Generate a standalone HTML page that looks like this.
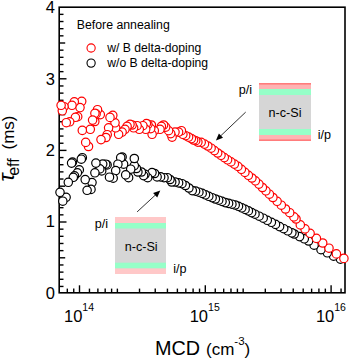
<!DOCTYPE html><html><head><meta charset="utf-8"><style>html,body{margin:0;padding:0;background:#fff;}svg{display:block;}text{font-family:"Liberation Sans",sans-serif;}</style></head><body>
<svg width="350" height="360" viewBox="0 0 350 360">
<rect width="350" height="360" fill="#fff"/>
<rect x="259" y="83" width="52" height="58" fill="#d6d6d6"/><rect x="259" y="83" width="52" height="6" fill="#ffb3b3"/><rect x="259" y="83" width="52" height="1.6" fill="#ff7c7c"/><rect x="259" y="89" width="52" height="6" fill="#96ffc8"/><rect x="259" y="129" width="52" height="6" fill="#96ffc8"/><rect x="259" y="135" width="52" height="6" fill="#ffb3b3"/><rect x="259" y="139.4" width="52" height="1.6" fill="#ff7c7c"/>
<rect x="115" y="217" width="51" height="57" fill="#d6d6d6"/><rect x="115" y="217" width="51" height="6" fill="#ffc8c8"/><rect x="115" y="223" width="51" height="5.5" fill="#96ffc8"/><rect x="115" y="262.7" width="51" height="5.8" fill="#96ffc8"/><rect x="115" y="268.5" width="51" height="5.5" fill="#ffc8c8"/>
<text x="285" y="116.8" font-size="12.6" text-anchor="middle" fill="#000">n-c-Si</text>
<text x="238.8" y="93.6" font-size="12.6" fill="#000">p/i</text>
<text x="317.8" y="139.2" font-size="12.6" fill="#000">i/p</text>
<text x="141.2" y="250.6" font-size="12.6" text-anchor="middle" fill="#000">n-c-Si</text>
<text x="94.8" y="227.8" font-size="12.6" fill="#000">p/i</text>
<text x="173.3" y="272.9" font-size="12.6" fill="#000">i/p</text>
<line x1="245.7" y1="112.1" x2="220.25072556213948" y2="136.26827069098834" stroke="#1a1a1a" stroke-width="0.9"/><polygon points="215.9,140.4 218.9099818346569,133.40428635841667 223.04171114366858,137.75501192055614" fill="#000"/>
<line x1="137.1" y1="211.9" x2="155.88972199311968" y2="194.5681012649672" stroke="#1a1a1a" stroke-width="0.9"/><polygon points="160.3,190.5 157.18872629112323,197.4512571459019 153.12062502615603,193.04097913902157" fill="#000"/>
<rect x="59.2" y="7.2" width="285.8" height="285.6" fill="none" stroke="#000" stroke-width="1.6"/><line x1="59.2" y1="286.44" x2="63.5" y2="286.44" stroke="#000" stroke-width="1.4"/><line x1="59.2" y1="279.28" x2="63.5" y2="279.28" stroke="#000" stroke-width="1.4"/><line x1="59.2" y1="272.12" x2="63.5" y2="272.12" stroke="#000" stroke-width="1.4"/><line x1="59.2" y1="264.96" x2="63.5" y2="264.96" stroke="#000" stroke-width="1.4"/><line x1="59.2" y1="257.80" x2="65.2" y2="257.80" stroke="#000" stroke-width="1.4"/><line x1="59.2" y1="250.64" x2="63.5" y2="250.64" stroke="#000" stroke-width="1.4"/><line x1="59.2" y1="243.48" x2="63.5" y2="243.48" stroke="#000" stroke-width="1.4"/><line x1="59.2" y1="236.32" x2="63.5" y2="236.32" stroke="#000" stroke-width="1.4"/><line x1="59.2" y1="229.16" x2="63.5" y2="229.16" stroke="#000" stroke-width="1.4"/><line x1="59.2" y1="222.00" x2="66.5" y2="222.00" stroke="#000" stroke-width="1.4"/><line x1="59.2" y1="214.84" x2="63.5" y2="214.84" stroke="#000" stroke-width="1.4"/><line x1="59.2" y1="207.68" x2="63.5" y2="207.68" stroke="#000" stroke-width="1.4"/><line x1="59.2" y1="200.52" x2="63.5" y2="200.52" stroke="#000" stroke-width="1.4"/><line x1="59.2" y1="193.36" x2="63.5" y2="193.36" stroke="#000" stroke-width="1.4"/><line x1="59.2" y1="186.20" x2="65.2" y2="186.20" stroke="#000" stroke-width="1.4"/><line x1="59.2" y1="179.04" x2="63.5" y2="179.04" stroke="#000" stroke-width="1.4"/><line x1="59.2" y1="171.88" x2="63.5" y2="171.88" stroke="#000" stroke-width="1.4"/><line x1="59.2" y1="164.72" x2="63.5" y2="164.72" stroke="#000" stroke-width="1.4"/><line x1="59.2" y1="157.56" x2="63.5" y2="157.56" stroke="#000" stroke-width="1.4"/><line x1="59.2" y1="150.40" x2="66.5" y2="150.40" stroke="#000" stroke-width="1.4"/><line x1="59.2" y1="143.24" x2="63.5" y2="143.24" stroke="#000" stroke-width="1.4"/><line x1="59.2" y1="136.08" x2="63.5" y2="136.08" stroke="#000" stroke-width="1.4"/><line x1="59.2" y1="128.92" x2="63.5" y2="128.92" stroke="#000" stroke-width="1.4"/><line x1="59.2" y1="121.76" x2="63.5" y2="121.76" stroke="#000" stroke-width="1.4"/><line x1="59.2" y1="114.60" x2="65.2" y2="114.60" stroke="#000" stroke-width="1.4"/><line x1="59.2" y1="107.44" x2="63.5" y2="107.44" stroke="#000" stroke-width="1.4"/><line x1="59.2" y1="100.28" x2="63.5" y2="100.28" stroke="#000" stroke-width="1.4"/><line x1="59.2" y1="93.12" x2="63.5" y2="93.12" stroke="#000" stroke-width="1.4"/><line x1="59.2" y1="85.96" x2="63.5" y2="85.96" stroke="#000" stroke-width="1.4"/><line x1="59.2" y1="78.80" x2="66.5" y2="78.80" stroke="#000" stroke-width="1.4"/><line x1="59.2" y1="71.64" x2="63.5" y2="71.64" stroke="#000" stroke-width="1.4"/><line x1="59.2" y1="64.48" x2="63.5" y2="64.48" stroke="#000" stroke-width="1.4"/><line x1="59.2" y1="57.32" x2="63.5" y2="57.32" stroke="#000" stroke-width="1.4"/><line x1="59.2" y1="50.16" x2="63.5" y2="50.16" stroke="#000" stroke-width="1.4"/><line x1="59.2" y1="43.00" x2="65.2" y2="43.00" stroke="#000" stroke-width="1.4"/><line x1="59.2" y1="35.84" x2="63.5" y2="35.84" stroke="#000" stroke-width="1.4"/><line x1="59.2" y1="28.68" x2="63.5" y2="28.68" stroke="#000" stroke-width="1.4"/><line x1="59.2" y1="21.52" x2="63.5" y2="21.52" stroke="#000" stroke-width="1.4"/><line x1="59.2" y1="14.36" x2="63.5" y2="14.36" stroke="#000" stroke-width="1.4"/><line x1="67.31" y1="292.8" x2="67.31" y2="288.6" stroke="#000" stroke-width="1.4"/><line x1="73.74" y1="292.8" x2="73.74" y2="288.6" stroke="#000" stroke-width="1.4"/><line x1="79.50" y1="292.8" x2="79.50" y2="285.3" stroke="#000" stroke-width="1.4"/><line x1="89.46" y1="292.8" x2="89.46" y2="288.6" stroke="#000" stroke-width="1.4"/><line x1="97.88" y1="292.8" x2="97.88" y2="288.6" stroke="#000" stroke-width="1.4"/><line x1="105.18" y1="292.8" x2="105.18" y2="288.6" stroke="#000" stroke-width="1.4"/><line x1="111.61" y1="292.8" x2="111.61" y2="288.6" stroke="#000" stroke-width="1.4"/><line x1="117.37" y1="292.8" x2="117.37" y2="288.6" stroke="#000" stroke-width="1.4"/><line x1="139.52" y1="292.8" x2="139.52" y2="288.6" stroke="#000" stroke-width="1.4"/><line x1="155.24" y1="292.8" x2="155.24" y2="288.6" stroke="#000" stroke-width="1.4"/><line x1="167.43" y1="292.8" x2="167.43" y2="288.6" stroke="#000" stroke-width="1.4"/><line x1="177.39" y1="292.8" x2="177.39" y2="288.6" stroke="#000" stroke-width="1.4"/><line x1="185.81" y1="292.8" x2="185.81" y2="288.6" stroke="#000" stroke-width="1.4"/><line x1="193.11" y1="292.8" x2="193.11" y2="288.6" stroke="#000" stroke-width="1.4"/><line x1="199.54" y1="292.8" x2="199.54" y2="288.6" stroke="#000" stroke-width="1.4"/><line x1="205.30" y1="292.8" x2="205.30" y2="285.3" stroke="#000" stroke-width="1.4"/><line x1="215.26" y1="292.8" x2="215.26" y2="288.6" stroke="#000" stroke-width="1.4"/><line x1="223.68" y1="292.8" x2="223.68" y2="288.6" stroke="#000" stroke-width="1.4"/><line x1="230.98" y1="292.8" x2="230.98" y2="288.6" stroke="#000" stroke-width="1.4"/><line x1="237.41" y1="292.8" x2="237.41" y2="288.6" stroke="#000" stroke-width="1.4"/><line x1="243.17" y1="292.8" x2="243.17" y2="288.6" stroke="#000" stroke-width="1.4"/><line x1="265.32" y1="292.8" x2="265.32" y2="288.6" stroke="#000" stroke-width="1.4"/><line x1="281.04" y1="292.8" x2="281.04" y2="288.6" stroke="#000" stroke-width="1.4"/><line x1="293.23" y1="292.8" x2="293.23" y2="288.6" stroke="#000" stroke-width="1.4"/><line x1="303.19" y1="292.8" x2="303.19" y2="288.6" stroke="#000" stroke-width="1.4"/><line x1="311.61" y1="292.8" x2="311.61" y2="288.6" stroke="#000" stroke-width="1.4"/><line x1="318.91" y1="292.8" x2="318.91" y2="288.6" stroke="#000" stroke-width="1.4"/><line x1="325.34" y1="292.8" x2="325.34" y2="288.6" stroke="#000" stroke-width="1.4"/><line x1="331.10" y1="292.8" x2="331.10" y2="285.3" stroke="#000" stroke-width="1.4"/><line x1="341.06" y1="292.8" x2="341.06" y2="288.6" stroke="#000" stroke-width="1.4"/>
<circle cx="340.4" cy="259.1" r="4.2" fill="#fff" stroke="#000" stroke-width="1.2"/><circle cx="333.6" cy="256.2" r="4.2" fill="#fff" stroke="#000" stroke-width="1.2"/><circle cx="327.3" cy="252.8" r="4.2" fill="#fff" stroke="#000" stroke-width="1.2"/><circle cx="321.0" cy="249.7" r="4.2" fill="#fff" stroke="#000" stroke-width="1.2"/><circle cx="314.1" cy="245.2" r="4.2" fill="#fff" stroke="#000" stroke-width="1.2"/><circle cx="308.6" cy="241.0" r="4.2" fill="#fff" stroke="#000" stroke-width="1.2"/><circle cx="304.3" cy="238.8" r="4.2" fill="#fff" stroke="#000" stroke-width="1.2"/><circle cx="299.6" cy="236.6" r="4.2" fill="#fff" stroke="#000" stroke-width="1.2"/><circle cx="294.3" cy="234.0" r="4.2" fill="#fff" stroke="#000" stroke-width="1.2"/><circle cx="291.9" cy="232.8" r="4.2" fill="#fff" stroke="#000" stroke-width="1.2"/><circle cx="287.8" cy="230.8" r="4.2" fill="#fff" stroke="#000" stroke-width="1.2"/><circle cx="283.7" cy="228.7" r="4.2" fill="#fff" stroke="#000" stroke-width="1.2"/><circle cx="279.6" cy="226.6" r="4.2" fill="#fff" stroke="#000" stroke-width="1.2"/><circle cx="275.5" cy="224.4" r="4.2" fill="#fff" stroke="#000" stroke-width="1.2"/><circle cx="271.4" cy="222.3" r="4.2" fill="#fff" stroke="#000" stroke-width="1.2"/><circle cx="267.3" cy="220.3" r="4.2" fill="#fff" stroke="#000" stroke-width="1.2"/><circle cx="263.2" cy="218.2" r="4.2" fill="#fff" stroke="#000" stroke-width="1.2"/><circle cx="259.1" cy="216.2" r="4.2" fill="#fff" stroke="#000" stroke-width="1.2"/><circle cx="255.0" cy="214.2" r="4.2" fill="#fff" stroke="#000" stroke-width="1.2"/><circle cx="251.7" cy="212.6" r="4.2" fill="#fff" stroke="#000" stroke-width="1.2"/><circle cx="248.4" cy="210.9" r="4.2" fill="#fff" stroke="#000" stroke-width="1.2"/><circle cx="245.1" cy="209.4" r="4.2" fill="#fff" stroke="#000" stroke-width="1.2"/><circle cx="241.8" cy="207.8" r="4.2" fill="#fff" stroke="#000" stroke-width="1.2"/><circle cx="238.5" cy="206.3" r="4.2" fill="#fff" stroke="#000" stroke-width="1.2"/><circle cx="235.2" cy="205.0" r="4.2" fill="#fff" stroke="#000" stroke-width="1.2"/><circle cx="231.9" cy="204.2" r="4.2" fill="#fff" stroke="#000" stroke-width="1.2"/><circle cx="228.6" cy="203.4" r="4.2" fill="#fff" stroke="#000" stroke-width="1.2"/><circle cx="225.3" cy="202.6" r="4.2" fill="#fff" stroke="#000" stroke-width="1.2"/><circle cx="222.0" cy="201.4" r="4.2" fill="#fff" stroke="#000" stroke-width="1.2"/><circle cx="218.7" cy="200.2" r="4.2" fill="#fff" stroke="#000" stroke-width="1.2"/><circle cx="215.4" cy="199.0" r="4.2" fill="#fff" stroke="#000" stroke-width="1.2"/><circle cx="212.1" cy="197.7" r="4.2" fill="#fff" stroke="#000" stroke-width="1.2"/><circle cx="208.8" cy="196.3" r="4.2" fill="#fff" stroke="#000" stroke-width="1.2"/><circle cx="205.5" cy="194.8" r="4.2" fill="#fff" stroke="#000" stroke-width="1.2"/><circle cx="202.2" cy="193.4" r="4.2" fill="#fff" stroke="#000" stroke-width="1.2"/><circle cx="198.9" cy="192.2" r="4.2" fill="#fff" stroke="#000" stroke-width="1.2"/><circle cx="195.6" cy="191.1" r="4.2" fill="#fff" stroke="#000" stroke-width="1.2"/><circle cx="192.3" cy="190.6" r="4.2" fill="#fff" stroke="#000" stroke-width="1.2"/><circle cx="188.9" cy="188.0" r="4.2" fill="#fff" stroke="#000" stroke-width="1.2"/><circle cx="185.4" cy="185.5" r="4.2" fill="#fff" stroke="#000" stroke-width="1.2"/><circle cx="182.0" cy="183.7" r="4.2" fill="#fff" stroke="#000" stroke-width="1.2"/><circle cx="178.6" cy="182.9" r="4.2" fill="#fff" stroke="#000" stroke-width="1.2"/><circle cx="175.1" cy="182.0" r="4.2" fill="#fff" stroke="#000" stroke-width="1.2"/><circle cx="171.7" cy="182.0" r="4.2" fill="#fff" stroke="#000" stroke-width="1.2"/><circle cx="170.0" cy="179.5" r="4.2" fill="#fff" stroke="#000" stroke-width="1.2"/><circle cx="167.4" cy="177.7" r="4.2" fill="#fff" stroke="#000" stroke-width="1.2"/><circle cx="164.0" cy="177.7" r="4.2" fill="#fff" stroke="#000" stroke-width="1.2"/><circle cx="160.6" cy="176.9" r="4.2" fill="#fff" stroke="#000" stroke-width="1.2"/><circle cx="157.1" cy="176.9" r="4.2" fill="#fff" stroke="#000" stroke-width="1.2"/><circle cx="154.6" cy="173.5" r="4.2" fill="#fff" stroke="#000" stroke-width="1.2"/><circle cx="152.0" cy="172.6" r="4.2" fill="#fff" stroke="#000" stroke-width="1.2"/><circle cx="147.7" cy="177.7" r="4.2" fill="#fff" stroke="#000" stroke-width="1.2"/><circle cx="145.1" cy="174.3" r="4.2" fill="#fff" stroke="#000" stroke-width="1.2"/><circle cx="143.6" cy="175.6" r="4.2" fill="#fff" stroke="#000" stroke-width="1.2"/><circle cx="141.4" cy="172.0" r="4.2" fill="#fff" stroke="#000" stroke-width="1.2"/><circle cx="137.9" cy="172.0" r="4.2" fill="#fff" stroke="#000" stroke-width="1.2"/><circle cx="136.4" cy="168.5" r="4.2" fill="#fff" stroke="#000" stroke-width="1.2"/><circle cx="134.3" cy="165.6" r="4.2" fill="#fff" stroke="#000" stroke-width="1.2"/><circle cx="134.3" cy="158.5" r="4.2" fill="#fff" stroke="#000" stroke-width="1.2"/><circle cx="130.7" cy="169.2" r="4.2" fill="#fff" stroke="#000" stroke-width="1.2"/><circle cx="128.6" cy="177.7" r="4.2" fill="#fff" stroke="#000" stroke-width="1.2"/><circle cx="125.7" cy="174.9" r="4.2" fill="#fff" stroke="#000" stroke-width="1.2"/><circle cx="123.6" cy="164.2" r="4.2" fill="#fff" stroke="#000" stroke-width="1.2"/><circle cx="122.1" cy="157.0" r="4.2" fill="#fff" stroke="#000" stroke-width="1.2"/><circle cx="120.7" cy="157.7" r="4.2" fill="#fff" stroke="#000" stroke-width="1.2"/><circle cx="117.9" cy="164.2" r="4.2" fill="#fff" stroke="#000" stroke-width="1.2"/><circle cx="115.7" cy="170.6" r="4.2" fill="#fff" stroke="#000" stroke-width="1.2"/><circle cx="113.2" cy="178.2" r="4.2" fill="#fff" stroke="#000" stroke-width="1.2"/><circle cx="109.5" cy="177.2" r="4.2" fill="#fff" stroke="#000" stroke-width="1.2"/><circle cx="107.1" cy="164.9" r="4.2" fill="#fff" stroke="#000" stroke-width="1.2"/><circle cx="105.7" cy="164.2" r="4.2" fill="#fff" stroke="#000" stroke-width="1.2"/><circle cx="102.7" cy="164.1" r="4.2" fill="#fff" stroke="#000" stroke-width="1.2"/><circle cx="101.7" cy="170.9" r="4.2" fill="#fff" stroke="#000" stroke-width="1.2"/><circle cx="99.8" cy="168.9" r="4.2" fill="#fff" stroke="#000" stroke-width="1.2"/><circle cx="95.9" cy="163.1" r="4.2" fill="#fff" stroke="#000" stroke-width="1.2"/><circle cx="94.9" cy="172.8" r="4.2" fill="#fff" stroke="#000" stroke-width="1.2"/><circle cx="92.0" cy="182.6" r="4.2" fill="#fff" stroke="#000" stroke-width="1.2"/><circle cx="91.0" cy="189.4" r="4.2" fill="#fff" stroke="#000" stroke-width="1.2"/><circle cx="87.1" cy="190.3" r="4.2" fill="#fff" stroke="#000" stroke-width="1.2"/><circle cx="85.2" cy="179.6" r="4.2" fill="#fff" stroke="#000" stroke-width="1.2"/><circle cx="82.3" cy="157.7" r="4.2" fill="#fff" stroke="#000" stroke-width="1.2"/><circle cx="81.3" cy="159.2" r="4.2" fill="#fff" stroke="#000" stroke-width="1.2"/><circle cx="79.3" cy="169.9" r="4.2" fill="#fff" stroke="#000" stroke-width="1.2"/><circle cx="77.4" cy="172.8" r="4.2" fill="#fff" stroke="#000" stroke-width="1.2"/><circle cx="74.5" cy="175.8" r="4.2" fill="#fff" stroke="#000" stroke-width="1.2"/><circle cx="73.3" cy="177.3" r="4.2" fill="#fff" stroke="#000" stroke-width="1.2"/><circle cx="72.5" cy="162.1" r="4.2" fill="#fff" stroke="#000" stroke-width="1.2"/><circle cx="71.6" cy="163.1" r="4.2" fill="#fff" stroke="#000" stroke-width="1.2"/><circle cx="68.3" cy="182.3" r="4.2" fill="#fff" stroke="#000" stroke-width="1.2"/><circle cx="66.1" cy="197.3" r="4.2" fill="#fff" stroke="#000" stroke-width="1.2"/><circle cx="62.8" cy="201.2" r="4.2" fill="#fff" stroke="#000" stroke-width="1.2"/><circle cx="60.0" cy="192.3" r="4.2" fill="#fff" stroke="#000" stroke-width="1.2"/><circle cx="343.9" cy="258.4" r="4.2" fill="#fff" stroke="#ff0000" stroke-width="1.2"/><circle cx="336.4" cy="253.9" r="4.2" fill="#fff" stroke="#ff0000" stroke-width="1.2"/><circle cx="329.0" cy="248.2" r="4.2" fill="#fff" stroke="#ff0000" stroke-width="1.2"/><circle cx="322.7" cy="243.0" r="4.2" fill="#fff" stroke="#ff0000" stroke-width="1.2"/><circle cx="316.4" cy="238.4" r="4.2" fill="#fff" stroke="#ff0000" stroke-width="1.2"/><circle cx="310.1" cy="233.3" r="4.2" fill="#fff" stroke="#ff0000" stroke-width="1.2"/><circle cx="305.0" cy="228.9" r="4.2" fill="#fff" stroke="#ff0000" stroke-width="1.2"/><circle cx="300.3" cy="224.9" r="4.2" fill="#fff" stroke="#ff0000" stroke-width="1.2"/><circle cx="296.0" cy="219.0" r="4.2" fill="#fff" stroke="#ff0000" stroke-width="1.2"/><circle cx="293.9" cy="216.9" r="4.2" fill="#fff" stroke="#ff0000" stroke-width="1.2"/><circle cx="289.7" cy="212.7" r="4.2" fill="#fff" stroke="#ff0000" stroke-width="1.2"/><circle cx="285.5" cy="209.0" r="4.2" fill="#fff" stroke="#ff0000" stroke-width="1.2"/><circle cx="281.3" cy="205.2" r="4.2" fill="#fff" stroke="#ff0000" stroke-width="1.2"/><circle cx="277.1" cy="201.3" r="4.2" fill="#fff" stroke="#ff0000" stroke-width="1.2"/><circle cx="272.9" cy="197.5" r="4.2" fill="#fff" stroke="#ff0000" stroke-width="1.2"/><circle cx="269.4" cy="194.2" r="4.2" fill="#fff" stroke="#ff0000" stroke-width="1.2"/><circle cx="265.9" cy="190.8" r="4.2" fill="#fff" stroke="#ff0000" stroke-width="1.2"/><circle cx="262.4" cy="187.5" r="4.2" fill="#fff" stroke="#ff0000" stroke-width="1.2"/><circle cx="258.9" cy="184.1" r="4.2" fill="#fff" stroke="#ff0000" stroke-width="1.2"/><circle cx="255.4" cy="180.8" r="4.2" fill="#fff" stroke="#ff0000" stroke-width="1.2"/><circle cx="251.9" cy="178.0" r="4.2" fill="#fff" stroke="#ff0000" stroke-width="1.2"/><circle cx="248.4" cy="175.3" r="4.2" fill="#fff" stroke="#ff0000" stroke-width="1.2"/><circle cx="244.9" cy="172.4" r="4.2" fill="#fff" stroke="#ff0000" stroke-width="1.2"/><circle cx="241.4" cy="169.3" r="4.2" fill="#fff" stroke="#ff0000" stroke-width="1.2"/><circle cx="237.9" cy="166.4" r="4.2" fill="#fff" stroke="#ff0000" stroke-width="1.2"/><circle cx="234.4" cy="164.1" r="4.2" fill="#fff" stroke="#ff0000" stroke-width="1.2"/><circle cx="230.9" cy="161.9" r="4.2" fill="#fff" stroke="#ff0000" stroke-width="1.2"/><circle cx="227.6" cy="159.8" r="4.2" fill="#fff" stroke="#ff0000" stroke-width="1.2"/><circle cx="224.3" cy="157.6" r="4.2" fill="#fff" stroke="#ff0000" stroke-width="1.2"/><circle cx="221.0" cy="155.3" r="4.2" fill="#fff" stroke="#ff0000" stroke-width="1.2"/><circle cx="217.7" cy="153.0" r="4.2" fill="#fff" stroke="#ff0000" stroke-width="1.2"/><circle cx="214.4" cy="150.6" r="4.2" fill="#fff" stroke="#ff0000" stroke-width="1.2"/><circle cx="211.1" cy="148.2" r="4.2" fill="#fff" stroke="#ff0000" stroke-width="1.2"/><circle cx="207.8" cy="146.0" r="4.2" fill="#fff" stroke="#ff0000" stroke-width="1.2"/><circle cx="204.5" cy="144.1" r="4.2" fill="#fff" stroke="#ff0000" stroke-width="1.2"/><circle cx="201.2" cy="142.3" r="4.2" fill="#fff" stroke="#ff0000" stroke-width="1.2"/><circle cx="197.9" cy="142.1" r="4.2" fill="#fff" stroke="#ff0000" stroke-width="1.2"/><circle cx="195.7" cy="140.7" r="4.2" fill="#fff" stroke="#ff0000" stroke-width="1.2"/><circle cx="193.6" cy="140.0" r="4.2" fill="#fff" stroke="#ff0000" stroke-width="1.2"/><circle cx="191.4" cy="138.6" r="4.2" fill="#fff" stroke="#ff0000" stroke-width="1.2"/><circle cx="188.6" cy="137.1" r="4.2" fill="#fff" stroke="#ff0000" stroke-width="1.2"/><circle cx="185.7" cy="135.7" r="4.2" fill="#fff" stroke="#ff0000" stroke-width="1.2"/><circle cx="182.9" cy="134.3" r="4.2" fill="#fff" stroke="#ff0000" stroke-width="1.2"/><circle cx="181.4" cy="130.7" r="4.2" fill="#fff" stroke="#ff0000" stroke-width="1.2"/><circle cx="178.6" cy="132.1" r="4.2" fill="#fff" stroke="#ff0000" stroke-width="1.2"/><circle cx="175.0" cy="132.1" r="4.2" fill="#fff" stroke="#ff0000" stroke-width="1.2"/><circle cx="172.1" cy="137.1" r="4.2" fill="#fff" stroke="#ff0000" stroke-width="1.2"/><circle cx="170.7" cy="133.6" r="4.2" fill="#fff" stroke="#ff0000" stroke-width="1.2"/><circle cx="168.6" cy="130.7" r="4.2" fill="#fff" stroke="#ff0000" stroke-width="1.2"/><circle cx="165.7" cy="127.1" r="4.2" fill="#fff" stroke="#ff0000" stroke-width="1.2"/><circle cx="163.6" cy="125.0" r="4.2" fill="#fff" stroke="#ff0000" stroke-width="1.2"/><circle cx="161.4" cy="126.4" r="4.2" fill="#fff" stroke="#ff0000" stroke-width="1.2"/><circle cx="160.0" cy="129.3" r="4.2" fill="#fff" stroke="#ff0000" stroke-width="1.2"/><circle cx="154.3" cy="130.7" r="4.2" fill="#fff" stroke="#ff0000" stroke-width="1.2"/><circle cx="152.1" cy="134.3" r="4.2" fill="#fff" stroke="#ff0000" stroke-width="1.2"/><circle cx="151.4" cy="125.0" r="4.2" fill="#fff" stroke="#ff0000" stroke-width="1.2"/><circle cx="150.7" cy="128.6" r="4.2" fill="#fff" stroke="#ff0000" stroke-width="1.2"/><circle cx="147.9" cy="124.3" r="4.2" fill="#fff" stroke="#ff0000" stroke-width="1.2"/><circle cx="146.4" cy="123.6" r="4.2" fill="#fff" stroke="#ff0000" stroke-width="1.2"/><circle cx="145.7" cy="129.3" r="4.2" fill="#fff" stroke="#ff0000" stroke-width="1.2"/><circle cx="142.9" cy="125.7" r="4.2" fill="#fff" stroke="#ff0000" stroke-width="1.2"/><circle cx="139.3" cy="129.3" r="4.2" fill="#fff" stroke="#ff0000" stroke-width="1.2"/><circle cx="137.1" cy="125.7" r="4.2" fill="#fff" stroke="#ff0000" stroke-width="1.2"/><circle cx="133.6" cy="127.8" r="4.2" fill="#fff" stroke="#ff0000" stroke-width="1.2"/><circle cx="132.1" cy="125.0" r="4.2" fill="#fff" stroke="#ff0000" stroke-width="1.2"/><circle cx="130.0" cy="124.3" r="4.2" fill="#fff" stroke="#ff0000" stroke-width="1.2"/><circle cx="127.1" cy="126.4" r="4.2" fill="#fff" stroke="#ff0000" stroke-width="1.2"/><circle cx="125.0" cy="129.3" r="4.2" fill="#fff" stroke="#ff0000" stroke-width="1.2"/><circle cx="122.1" cy="132.1" r="4.2" fill="#fff" stroke="#ff0000" stroke-width="1.2"/><circle cx="118.6" cy="134.3" r="4.2" fill="#fff" stroke="#ff0000" stroke-width="1.2"/><circle cx="115.7" cy="127.8" r="4.2" fill="#fff" stroke="#ff0000" stroke-width="1.2"/><circle cx="115.0" cy="122.8" r="4.2" fill="#fff" stroke="#ff0000" stroke-width="1.2"/><circle cx="112.8" cy="115.3" r="4.2" fill="#fff" stroke="#ff0000" stroke-width="1.2"/><circle cx="110.0" cy="117.4" r="4.2" fill="#fff" stroke="#ff0000" stroke-width="1.2"/><circle cx="108.6" cy="127.8" r="4.2" fill="#fff" stroke="#ff0000" stroke-width="1.2"/><circle cx="107.2" cy="134.7" r="4.2" fill="#fff" stroke="#ff0000" stroke-width="1.2"/><circle cx="105.9" cy="137.5" r="4.2" fill="#fff" stroke="#ff0000" stroke-width="1.2"/><circle cx="101.0" cy="139.6" r="4.2" fill="#fff" stroke="#ff0000" stroke-width="1.2"/><circle cx="100.3" cy="114.6" r="4.2" fill="#fff" stroke="#ff0000" stroke-width="1.2"/><circle cx="97.5" cy="109.7" r="4.2" fill="#fff" stroke="#ff0000" stroke-width="1.2"/><circle cx="96.1" cy="113.9" r="4.2" fill="#fff" stroke="#ff0000" stroke-width="1.2"/><circle cx="94.9" cy="113.3" r="4.2" fill="#fff" stroke="#ff0000" stroke-width="1.2"/><circle cx="94.8" cy="121.5" r="4.2" fill="#fff" stroke="#ff0000" stroke-width="1.2"/><circle cx="92.6" cy="120.1" r="4.2" fill="#fff" stroke="#ff0000" stroke-width="1.2"/><circle cx="90.3" cy="129.3" r="4.2" fill="#fff" stroke="#ff0000" stroke-width="1.2"/><circle cx="88.5" cy="146.5" r="4.2" fill="#fff" stroke="#ff0000" stroke-width="1.2"/><circle cx="85.7" cy="142.4" r="4.2" fill="#fff" stroke="#ff0000" stroke-width="1.2"/><circle cx="82.3" cy="130.4" r="4.2" fill="#fff" stroke="#ff0000" stroke-width="1.2"/><circle cx="81.7" cy="101.3" r="4.2" fill="#fff" stroke="#ff0000" stroke-width="1.2"/><circle cx="80.0" cy="107.6" r="4.2" fill="#fff" stroke="#ff0000" stroke-width="1.2"/><circle cx="77.7" cy="116.7" r="4.2" fill="#fff" stroke="#ff0000" stroke-width="1.2"/><circle cx="75.4" cy="117.3" r="4.2" fill="#fff" stroke="#ff0000" stroke-width="1.2"/><circle cx="74.3" cy="101.8" r="4.2" fill="#fff" stroke="#ff0000" stroke-width="1.2"/><circle cx="72.0" cy="105.3" r="4.2" fill="#fff" stroke="#ff0000" stroke-width="1.2"/><circle cx="69.7" cy="121.8" r="4.2" fill="#fff" stroke="#ff0000" stroke-width="1.2"/><circle cx="66.3" cy="122.7" r="4.2" fill="#fff" stroke="#ff0000" stroke-width="1.2"/><circle cx="64.0" cy="106.7" r="4.2" fill="#fff" stroke="#ff0000" stroke-width="1.2"/><circle cx="62.3" cy="110.8" r="4.2" fill="#fff" stroke="#ff0000" stroke-width="1.2"/><circle cx="61.1" cy="105.3" r="4.2" fill="#fff" stroke="#ff0000" stroke-width="1.2"/>
<text x="55" y="298.8" font-size="16.5" text-anchor="end" fill="#000">0</text>
<text x="55" y="227.4" font-size="16.5" text-anchor="end" fill="#000">1</text>
<text x="55" y="156.0" font-size="16.5" text-anchor="end" fill="#000">2</text>
<text x="55" y="84.6" font-size="16.5" text-anchor="end" fill="#000">3</text>
<text x="55" y="13.2" font-size="16.5" text-anchor="end" fill="#000">4</text>
<text x="64" y="322.1" font-size="16.5" fill="#000">10<tspan dy="-11" font-size="10.5">14</tspan></text>
<text x="189.7" y="322.1" font-size="16.5" fill="#000">10<tspan dy="-11" font-size="10.5">15</tspan></text>
<text x="315.9" y="322.1" font-size="16.5" fill="#000">10<tspan dy="-11" font-size="10.5">16</tspan></text>
<text x="155" y="354.9" font-size="19.8" fill="#000">MCD</text><text x="206" y="354.9" font-size="17" fill="#000">(cm<tspan font-size="11.5" dy="-10">-3</tspan><tspan dy="10">)</tspan></text>
<g transform="translate(13.6,0) rotate(-90)"><text x="-181.5" y="0" font-size="22" font-family="Liberation Serif" font-style="italic" fill="#000">τ</text><text x="-175.8" y="5" font-size="16" fill="#000">eff</text><text x="-149.5" y="0" font-size="17" fill="#000">(ms)</text></g>
<text x="76.8" y="28.9" font-size="12.3" fill="#000">Before annealing</text>
<circle cx="91.1" cy="48" r="4.1" fill="#fff" stroke="#ff0000" stroke-width="1.1"/>
<circle cx="91.1" cy="63.1" r="4.1" fill="#fff" stroke="#000" stroke-width="1.1"/>
<text x="107.2" y="52" font-size="12.2" fill="#000">w/ B delta-doping</text>
<text x="107.2" y="66.8" font-size="12.2" fill="#000">w/o B delta-doping</text>
</svg></body></html>
